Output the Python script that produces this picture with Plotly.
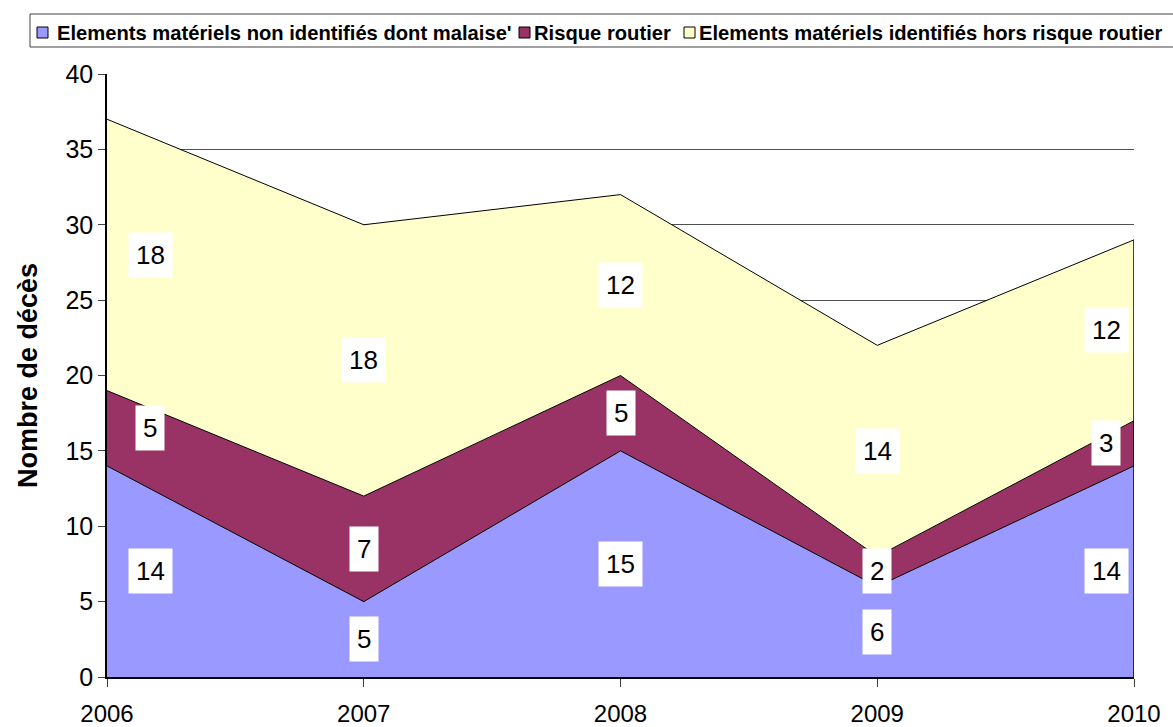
import plotly.graph_objects as go

years = [2006, 2007, 2008, 2009, 2010]
non_identifies = [14, 5, 15, 6, 14]
risque_routier = [5, 7, 5, 2, 3]
identifies_hors_routier = [18, 18, 12, 14, 12]

series_names = [
    "Elements matériels non identifiés dont malaise'",
    "Risque routier",
    "Elements matériels identifiés hors risque routier",
]
series_values = [non_identifies, risque_routier, identifies_hors_routier]
series_colors = ["#9999FF", "#993366", "#FFFFCC"]

FONT = "Liberation Sans, Arial, sans-serif"

# plot area in pixels (used for the hand-drawn legend only)
PLOT_L, PLOT_R, PLOT_T, PLOT_B = 107, 1134, 74, 677


def px_x(px):
    return (px - PLOT_L) / (PLOT_R - PLOT_L)


def px_y(py):
    return (PLOT_B - py) / (PLOT_B - PLOT_T)


fig = go.Figure()

for name, vals, color in zip(series_names, series_values, series_colors):
    fig.add_trace(go.Scatter(
        x=years,
        y=vals,
        name=name,
        mode="lines",
        stackgroup="one",
        line=dict(color="black", width=1),
        fillcolor=color,
        showlegend=False,
        hoverinfo="skip",
    ))

# right edge of the stacked area
totals = [sum(v) for v in zip(*series_values)]
fig.add_shape(type="line", xref="x", yref="y",
              x0=years[-1], x1=years[-1], y0=0, y1=totals[-1],
              line=dict(color="black", width=1.5))

# data labels in the middle of each band
annotations = []
base = [0] * len(years)
for vals in series_values:
    for i, (yr, v) in enumerate(zip(years, vals)):
        shift = 0
        if i == 0:
            shift = 43
        elif i == len(years) - 1:
            shift = -28
        annotations.append(dict(
            x=yr, y=base[i] + v / 2, xref="x", yref="y",
            text=str(v), showarrow=False, xshift=shift,
            bgcolor="white", borderpad=7,
            font=dict(family=FONT, size=26, color="black"),
        ))
    base = [b + v for b, v in zip(base, vals)]

# legend drawn by hand so it runs off the right edge like the original
shapes = [dict(type="rect", xref="paper", yref="paper",
               x0=px_x(30), x1=px_x(1200), y0=px_y(47), y1=px_y(14),
               line=dict(color="#404040", width=1), fillcolor="white",
               layer="above")]
sym_left = [37, 519, 684]
text_left = [56, 533, 698]
for name, color, sx, tx in zip(series_names, series_colors, sym_left, text_left):
    shapes.append(dict(type="rect", xref="paper", yref="paper",
                       x0=px_x(sx), x1=px_x(sx + 11), y0=px_y(38), y1=px_y(27),
                       line=dict(color="black", width=1), fillcolor=color,
                       layer="above"))
    annotations.append(dict(
        x=px_x(tx), y=px_y(32.5), xref="paper", yref="paper",
        text="<b>" + name + "</b>", showarrow=False,
        xanchor="left", yanchor="middle", borderpad=0,
        font=dict(family=FONT, size=20.2, color="black"),
    ))

for s in shapes:
    fig.add_shape(**s)

fig.update_layout(
    width=1173,
    height=727,
    margin=dict(l=PLOT_L, r=1173 - PLOT_R, t=PLOT_T, b=727 - PLOT_B),
    paper_bgcolor="white",
    plot_bgcolor="white",
    font=dict(family=FONT, color="black"),
    annotations=annotations,
    showlegend=False,
)

fig.update_xaxes(
    range=[2006, 2010],
    tickvals=years,
    ticktext=[str(y) for y in years],
    automargin=False,
    showgrid=False,
    zeroline=False,
    showline=True,
    linecolor="black",
    linewidth=1.5,
    ticks="outside",
    ticklen=8,
    tickcolor="#404040",
    ticklabelstandoff=6,
    tickfont=dict(family=FONT, size=24, color="black"),
)

fig.update_yaxes(
    range=[0, 40],
    dtick=5,
    automargin=False,
    showgrid=True,
    gridcolor="#505050",
    gridwidth=1,
    zeroline=False,
    showline=True,
    linecolor="black",
    linewidth=1.5,
    ticks="outside",
    ticklen=7,
    tickcolor="#404040",
    tickfont=dict(family=FONT, size=25, color="black"),
    title=dict(text="<b>Nombre de décès</b>", standoff=20,
               font=dict(family=FONT, size=27, color="black")),
)

# the page's default body margin would push the fixed-size figure off-screen
fig.write_html("out.html",
               config={"displayModeBar": False},
               post_script="document.body.style.margin='0';"
                           "document.body.style.padding='0';")
